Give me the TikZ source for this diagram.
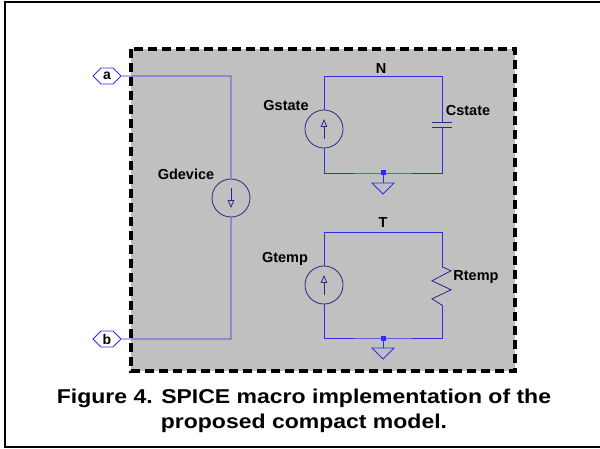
\documentclass[tikz,border=0pt]{standalone}
\usepackage{fontspec}
\setmainfont{Liberation Sans}
\usetikzlibrary{arrows,shapes,positioning}
\definecolor{wireblue}{RGB}{45,45,235}
\definecolor{srcnavy}{RGB}{40,40,140}
\definecolor{panelgray}{RGB}{192,192,192}
\begin{document}
\begin{tikzpicture}[x=1pt,y=-1pt,>=open triangle 45,
wire/.style={draw=wireblue,line width=0.9pt},
source/.style={circle,draw=srcnavy,line width=0.8pt,minimum size=38pt,inner sep=0pt},
port/.style={signal,signal to=east and west,draw=wireblue,fill=white,line width=0.8pt,
    minimum width=28pt,minimum height=16pt,inner sep=1pt,font=\fontsize{14}{14}\bfseries},
lbl/.style={font=\fontsize{14.5}{15}\bfseries,inner sep=0pt},
gnd/.style={draw=wireblue,line width=0.8pt},
dot/.style={fill=wireblue,minimum size=5pt,inner sep=0pt}
    ]
\useasboundingbox (0,0) rectangle (600,449);
\draw[line width=2pt] (5,2) rectangle (604,447);
\draw[fill=panelgray,line width=3.5pt,dash pattern=on 9pt off 5pt] (131,49) rectangle (515,371);

% ports and Gdevice
\node[port] (a) at (107,76) {a};
\node[port] (b) at (107,339) {b};
\node[source] (Gdev) at (231,198) {};
\node[lbl] (GdevL) at (186,174) {Gdevice};
\coordinate (aT) at (231,76);
\coordinate (bB) at (231,339);
\draw[wire] (a) -- (aT) -- (Gdev.north);
\draw[wire] (Gdev.south) -- (bB) -- (b);
\draw[srcnavy,line width=0.8pt,->] ([yshift=10pt]Gdev.center) -- ([yshift=-10pt]Gdev.center);

% state circuit
\node[source] (Gst) at (324,129) {};
\node[lbl] (GstL) at (286,106) {Gstate};
\node[minimum width=20pt,minimum height=4pt,inner sep=0pt] (Cst) at (442,125) {};
\node[lbl] (CstL) at (468,111) {Cstate};
\node[lbl] (N) at (381,69) {N};
\coordinate (gS) at (383,173);
\draw[wire] (Gst.north) |- (442,76) -- (Cst.north);
\draw[wire] (Cst.south) |- (gS) -| (Gst.south);
\draw[srcnavy,line width=0.9pt] (Cst.north west) -- (Cst.north east) (Cst.south west) -- (Cst.south east);
\draw[srcnavy,line width=0.8pt,->] ([yshift=-10pt]Gst.center) -- ([yshift=10pt]Gst.center);
\draw[gnd] (gS) -- ++(0,10) coordinate (gSt);
\draw[gnd] ([xshift=-11pt]gSt) -- ([xshift=11pt]gSt) -- ([yshift=-11pt]gSt) -- cycle;
\node[dot] (gSd) at (gS) {};

% temperature circuit
\node[source] (Gtp) at (324,285) {};
\node[lbl] (GtpL) at (285,259) {Gtemp};
\node[minimum width=20pt,minimum height=38pt,inner sep=0pt] (Rtp) at (442,286) {};
\node[lbl] (RtpL) at (476,277) {Rtemp};
\node[lbl] (T) at (383,223) {T};
\coordinate (gT) at (383,338);
\draw[wire] (Gtp.north) |- (442,232) -- (Rtp.north);
\draw[wire] (Rtp.south) |- (gT) -| (Gtp.south);
\draw[srcnavy,line width=0.8pt] (Rtp.north) -- ++(9,4) -- ++(-19,10) -- ++(19,9) -- ++(-19,9) -- (Rtp.south);
\draw[srcnavy,line width=0.8pt,->] ([yshift=-10pt]Gtp.center) -- ([yshift=10pt]Gtp.center);
\draw[gnd] (gT) -- ++(0,10) coordinate (gTt);
\draw[gnd] ([xshift=-11pt]gTt) -- ([xshift=11pt]gTt) -- ([yshift=-11pt]gTt) -- cycle;
\node[dot] (gTd) at (gT) {};

% caption
\node[font=\fontsize{20}{20}\bfseries,anchor=base] (cap1) at (304,403) {\scalebox{1.15}[1]{Figure 4. SPICE macro implementation of the}};
\node[font=\fontsize{20}{20}\bfseries,anchor=base] (cap2) at (304,428) {\scalebox{1.15}[1]{proposed compact model.}};
\end{tikzpicture}
\end{document}
